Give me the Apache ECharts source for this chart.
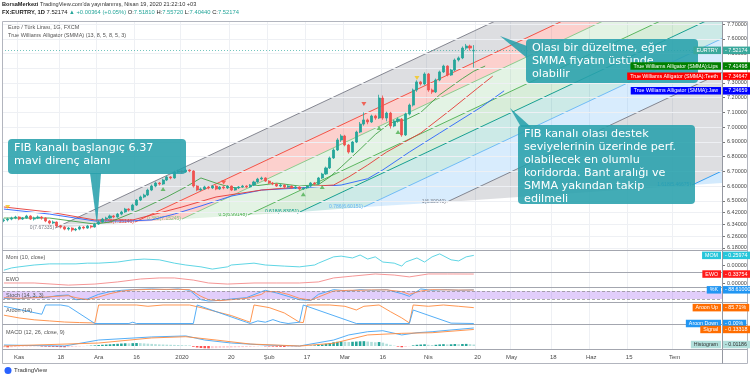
<!DOCTYPE html>
<html><head><meta charset="utf-8">
<script src="https://cdn.jsdelivr.net/npm/echarts@6/dist/echarts.min.js"></script>
<style>html,body{margin:0;padding:0;background:#fff;}#c{width:750px;height:378px;}</style>
</head><body><div id="c"></div>
<script>
// ---------- categories (weekdays) ----------
const firstDay = [2019, 9, 28];
const dayCount = 190;
const dates = [];
(function(){ const d = new Date(Date.UTC(firstDay[0], firstDay[1], firstDay[2]));
  while (dates.length < dayCount) { const w = d.getUTCDay(); if (w !== 0 && w !== 6) dates.push(d.toISOString().slice(0,10)); d.setUTCDate(d.getUTCDate()+1); } })();
const timeLabels = [['2019-11-01','Kas'],['2019-11-18','18'],['2019-12-02','Ara'],['2019-12-16','16'],['2020-01-01','2020'],['2020-01-20','20'],['2020-02-03','Şub'],['2020-02-17','17'],['2020-03-02','Mar'],['2020-03-16','16'],['2020-04-01','Nis'],['2020-04-20','20'],['2020-05-01','May'],['2020-05-18','18'],['2020-06-01','Haz'],['2020-06-15','15'],['2020-07-01','Tem']];
const priceTicks = [7.7,7.6,7.5,7.4,7.3,7.2,7.1,7.0,6.9,6.8,6.7,6.6,6.5,6.42,6.34,6.26,6.18];

// ---------- candles ----------
const opens = [6.365,6.370,6.376,6.383,6.390,6.376,6.383,6.397,6.376,6.383,
6.390,6.383,6.363,6.349,6.356,6.329,6.322,6.308,6.315,6.302,
6.308,6.322,6.315,6.329,6.322,6.342,6.356,6.376,6.383,6.397,
6.390,6.410,6.424,6.444,6.437,6.471,6.505,6.526,6.539,6.573,
6.600,6.621,6.614,6.641,6.662,6.655,6.696,6.702,6.696,6.709,
6.702,6.600,6.573,6.580,6.594,6.587,6.600,6.580,6.594,6.587,
6.600,6.573,6.587,6.594,6.600,6.594,6.607,6.628,6.648,6.655,
6.634,6.621,6.614,6.600,6.607,6.594,6.600,6.587,6.594,6.580,
6.587,6.600,6.621,6.614,6.655,6.682,6.723,6.791,6.845,6.913,
6.940,6.879,6.831,6.899,6.967,7.021,7.049,7.035,7.076,7.062,
7.198,7.062,7.096,7.008,7.042,7.055,6.947,7.089,7.150,7.252,
7.307,7.293,7.361,7.252,7.239,7.320,7.375,7.415,7.354,7.388,
7.456,7.470,7.537,7.551,7.51810];
const closes = [6.370,6.376,6.383,6.390,6.376,6.383,6.397,6.376,6.383,6.390,
6.383,6.363,6.349,6.356,6.329,6.322,6.308,6.315,6.302,6.308,
6.322,6.315,6.329,6.322,6.342,6.356,6.376,6.383,6.397,6.390,
6.410,6.424,6.444,6.437,6.471,6.505,6.526,6.539,6.573,6.600,
6.621,6.614,6.641,6.662,6.655,6.696,6.702,6.696,6.709,6.702,
6.600,6.573,6.580,6.594,6.587,6.600,6.580,6.594,6.587,6.600,
6.573,6.587,6.594,6.600,6.594,6.607,6.628,6.648,6.655,6.634,
6.621,6.614,6.600,6.607,6.594,6.600,6.587,6.594,6.580,6.587,
6.600,6.621,6.614,6.655,6.682,6.723,6.791,6.845,6.913,6.940,
6.879,6.831,6.899,6.967,7.021,7.049,7.035,7.076,7.062,7.198,
7.062,7.096,7.008,7.042,7.055,6.947,7.089,7.150,7.252,7.307,
7.293,7.361,7.252,7.239,7.320,7.375,7.415,7.354,7.388,7.456,
7.470,7.537,7.551,7.537,7.52174];
const lows = [6.355,6.360,6.368,6.375,6.368,6.370,6.378,6.370,6.366,6.376,
6.372,6.355,6.340,6.342,6.320,6.312,6.300,6.298,6.290,6.294,
6.300,6.306,6.310,6.312,6.318,6.336,6.350,6.368,6.378,6.382,
6.385,6.402,6.418,6.428,6.432,6.465,6.498,6.518,6.532,6.566,
6.592,6.604,6.608,6.634,6.646,6.650,6.688,6.686,6.690,6.694,
6.590,6.565,6.566,6.574,6.578,6.580,6.572,6.574,6.578,6.580,
6.566,6.568,6.580,6.588,6.586,6.588,6.600,6.622,6.640,6.628,
6.614,6.606,6.594,6.592,6.586,6.588,6.580,6.580,6.572,6.574,
6.580,6.594,6.606,6.610,6.648,6.676,6.716,6.784,6.838,6.900,
6.870,6.820,6.826,6.892,6.960,7.010,7.020,7.028,7.050,7.055,
7.050,7.040,6.990,7.000,7.030,6.935,6.940,7.080,7.140,7.240,
7.282,7.285,7.240,7.226,7.232,7.312,7.368,7.345,7.348,7.380,
7.446,7.462,7.525,7.520,7.40440];
const highs = [6.380,6.385,6.392,6.398,6.395,6.390,6.405,6.402,6.392,6.400,
6.396,6.388,6.370,6.366,6.360,6.336,6.330,6.322,6.320,6.316,
6.330,6.328,6.336,6.334,6.350,6.366,6.384,6.392,6.406,6.404,
6.418,6.432,6.452,6.450,6.480,6.512,6.535,6.548,6.582,6.610,
6.630,6.628,6.650,6.670,6.668,6.705,6.712,6.710,6.718,6.714,
6.708,6.606,6.590,6.602,6.600,6.608,6.606,6.600,6.600,6.606,
6.604,6.594,6.600,6.608,6.606,6.614,6.636,6.656,6.664,6.660,
6.640,6.628,6.620,6.614,6.612,6.606,6.604,6.600,6.598,6.594,
6.606,6.628,6.628,6.662,6.690,6.732,6.800,6.856,6.925,6.952,
6.948,6.886,6.906,6.976,7.035,7.100,7.058,7.085,7.084,7.220,
7.215,7.105,7.104,7.050,7.066,7.062,7.098,7.160,7.262,7.318,
7.314,7.372,7.368,7.262,7.330,7.384,7.424,7.420,7.396,7.466,
7.480,7.548,7.565,7.560,7.55720];

// ---------- Alligator ([bar index, value]) ----------
const jawPts = [[0,6.444],[12,6.410],[24,6.363],[33,6.363],[39,6.370],[45,6.410],[52,6.465],[60,6.532],[68,6.573],[78,6.587],[89,6.607],[96,6.650],[100,6.710],[107,6.831],[115,6.960],[126,7.137],[132,7.24659]];
const teethPts = [[0,6.458],[12,6.424],[24,6.370],[34,6.370],[47,6.458],[56,6.526],[68,6.573],[78,6.594],[87,6.607],[91,6.662],[96,6.743],[101,6.831],[110,6.960],[118,7.120],[125,7.265],[129,7.34647]];
const lipsPts = [[0,6.383],[12,6.383],[24,6.342],[28,6.356],[36,6.440],[43,6.526],[48,6.594],[52,6.655],[56,6.620],[60,6.590],[66,6.600],[72,6.620],[78,6.600],[83,6.610],[86,6.662],[89,6.730],[94,6.850],[98,6.950],[102,7.030],[106,7.050],[110,7.100],[115,7.220],[121,7.330],[124,7.380],[127,7.41498]];
const downMarks = [[58,6.625],[95,7.157]];
const upMarks = [[42,6.580],[79,6.545],[84,6.594],[99,6.994],[104,6.967]];
const yellowMarks = [[1,6.458],[109,7.334]];

// ---------- Fib channel ----------
const fibLevels = ['0','0.236','0.382','0.5','0.618','0.786','1','1.618','2.618'];
const fibValues = ['7.67335','7.35146','7.15245','6.99148','6.83051','6.60151','6.30940','5.46675',''];
const fibStartIdx = [13.5,34.6,47.0,64.4,78.1,95.0,116.9,181.6,284.2];
const fibStartPrice = [6.315,6.356,6.376,6.404,6.424,6.458,6.492,6.607,6.778];
const fibSlope = 0.0121;
const fibColors = ['#787b86','#f44336','#81c784','#4caf50','#009688','#64b5f6','#787b86','#2196f3','#f44336'];
const fibFills = ['rgba(120,123,134,0.25)','rgba(244,67,54,0.25)','rgba(129,199,132,0.22)','rgba(76,175,80,0.22)','rgba(0,150,136,0.2)','rgba(100,181,246,0.25)','rgba(120,123,134,0.25)','rgba(33,150,243,0.2)'];

// ---------- Indicators ----------
const momPts = [[0,-0.14],[2,-0.08],[4,-0.05],[8,0.00],[12,0.03],[15,0.03],[19,0.03],[22,0.05],[25,0.05],[30,0.08],[34,0.14],[37,0.16],[41,0.14],[45,0.05],[48,0.00],[52,-0.05],[55,-0.11],[59,-0.05],[60,0.00],[66,0.05],[69,0.00],[74,-0.03],[78,-0.05],[82,0.00],[83,0.05],[87,0.22],[89,0.24],[92,0.19],[94,0.27],[96,0.16],[98,0.22],[100,0.08],[103,0.05],[105,-0.03],[106,0.08],[109,0.19],[111,0.08],[113,0.22],[115,0.30],[118,0.14],[120,0.11],[122,0.22],[124,0.25974]];
const ewoPts = [[0,0.0],[8,0.0],[17,-0.08],[24,-0.04],[30,0.04],[36,0.15],[41,0.19],[45,0.19],[50,0.11],[54,0.0],[59,-0.04],[66,0.0],[72,0.0],[78,0.0],[83,0.04],[87,0.19],[92,0.26],[98,0.34],[103,0.30],[107,0.23],[112,0.34],[117,0.34],[124,0.33754]];
const stochK = [[0,25],[4,20],[8,35],[11,30],[14,45],[17,50],[19,15],[22,20],[25,55],[28,75],[31,85],[34,90],[39,95],[43,90],[46,95],[49,85],[52,15],[54,5],[57,10],[60,20],[64,30],[68,75],[69,85],[72,65],[75,40],[78,15],[81,10],[83,55],[87,90],[91,80],[94,90],[97,85],[101,90],[105,60],[107,40],[110,95],[113,85],[117,90],[120,85],[124,88.61]];
const stochD = [[0,30],[4,25],[8,30],[11,35],[14,40],[17,45],[19,30],[22,15],[25,35],[28,60],[31,78],[34,88],[39,92],[43,92],[46,92],[49,90],[52,40],[54,15],[57,8],[60,15],[64,25],[68,55],[69,75],[72,75],[75,55],[78,25],[81,12],[83,35],[87,80],[91,85],[94,85],[97,88],[101,88],[105,75],[107,55],[110,80],[113,90],[117,88],[120,87],[124,87]];
const aroonUp = [[0,45],[4,30],[8,20],[12,14],[16,8],[20,5],[24,3],[25,100],[35,100],[38,93],[42,100],[49,100],[52,86],[56,64],[60,43],[64,14],[65,7],[66,100],[70,86],[74,57],[78,7],[79,5],[80,100],[86,100],[90,93],[93,73],[95,93],[99,100],[102,64],[105,30],[107,3],[108,100],[112,93],[116,100],[120,93],[124,85.71]];
const aroonDown = [[0,93],[10,50],[11,100],[15,100],[17,93],[24,0],[33,0],[34,7],[35,0],[50,0],[51,100],[64,7],[65,0],[67,14],[69,7],[71,21],[73,7],[75,0],[78,7],[79,100],[93,0],[107,0],[108,73],[118,2],[124,0]];
const macdPts = [[0,0.008],[16,0.0],[25,0.048],[39,0.073],[48,0.081],[53,0.048],[60,0.024],[69,0.008],[78,0.0],[87,0.048],[91,0.089],[96,0.115],[100,0.123],[105,0.089],[109,0.107],[113,0.115],[118,0.129],[124,0.145]];
const signalPts = [[0,0.0],[25,0.024],[39,0.065],[48,0.075],[56,0.048],[65,0.016],[78,0.0],[87,0.022],[96,0.089],[105,0.102],[113,0.107],[124,0.13318]];
const histVals = [-0.010,-0.011,-0.010,-0.008,-0.006,
-0.005,-0.004,-0.004,-0.003,-0.003,-0.004,-0.005,-0.006,-0.007,-0.008,-0.009,
-0.010,-0.009,-0.008,-0.006,-0.004,
-0.002,0.001,0.003,0.005,0.008,
0.010,0.012,0.014,0.016,0.018,0.020,0.022,0.021,0.023,0.024,
0.023,0.021,0.019,0.017,0.015,0.013,0.012,
0.011,0.010,0.009,0.008,0.007,0.006,0.005,
-0.006,-0.012,-0.016,-0.018,-0.019,-0.018,-0.017,
-0.015,-0.014,-0.013,-0.012,-0.011,-0.010,-0.009,-0.008,-0.007,
-0.005,-0.003,-0.002,-0.003,-0.004,
-0.005,-0.006,-0.007,-0.008,-0.008,-0.007,-0.006,-0.005,
-0.002,0.000,0.003,0.005,0.008,0.012,
0.018,0.024,0.030,0.034,0.036,0.035,0.032,0.034,
0.036,0.038,0.039,0.036,0.033,0.030,0.032,0.027,
0.018,0.010,0.003,-0.005,-0.010,-0.007,
-0.002,0.005,0.010,0.012,0.014,0.010,0.008,0.010,0.013,
0.015,0.013,0.014,0.016,0.015,0.016,0.017,0.015,0.01186];

// ---------- layout ----------
const PL = 2, PR = 722, W = 750;
const panes = [{top:22,h:228,min:6.166,max:7.714},{top:251,h:21,min:-0.189,max:0.378},{top:273,h:14,min:-0.151,max:0.377},{top:288,h:14,min:-2.2,max:102.2},{top:303,h:21,min:-2.7,max:110.8},{top:325,h:24,min:-0.024,max:0.169}];
const labelMap = {}; timeLabels.forEach(t => labelMap[t[0]] = t[1]);
const isLabelDay = (i, v) => labelMap[v] !== undefined;
const FONT = 'Liberation Sans, Arial, sans-serif';

const grids = panes.map(p => ({left: PL, right: W - PR, top: p.top, height: p.h}));
const xAxes = panes.map((p, k) => ({
  type: 'category', gridIndex: k, data: dates, boundaryGap: true,
  axisLine: {show: false}, axisTick: {show: false},
  axisLabel: k === panes.length - 1 ? {show: true, interval: isLabelDay, formatter: v => labelMap[v] || '', fontSize: 6, color: '#4a4a4a', fontFamily: FONT, margin: 5} : {show: false},
  splitLine: {show: true, interval: isLabelDay, lineStyle: {color: '#eef0f4', width: 1}}
}));
const yAxes = panes.map((p, k) => {
  const base = {type: 'value', gridIndex: k, position: 'right', min: p.min, max: p.max, scale: true,
    axisLine: {show: false}, splitLine: {show: false}, axisTick: {show: false}, axisLabel: {show: false}};
  if (k === 0) { base.axisLabel = {show: true, customValues: priceTicks, formatter: v => v.toFixed(5), fontSize: 5.5, color: '#4a4a4a', fontFamily: FONT, margin: 5};
    base.axisTick = {show: true, customValues: priceTicks, length: 3, lineStyle: {color: '#777'}}; }
  if (k === 1 || k === 2) { base.axisLabel = {show: true, customValues: [0], formatter: v => v.toFixed(5), fontSize: 5.5, color: '#4a4a4a', fontFamily: FONT, margin: 5};
    base.axisTick = {show: true, customValues: [0], length: 3, lineStyle: {color: '#777'}}; }
  return base;
});

function fibRender(params, api) {
  const a = api.coord([0, 7]), b = api.coord([1, 7]);
  const dx = b[0] - a[0];
  const P = (idx, price) => [a[0] + idx * dx, api.coord([0, price])[1]];
  const far = 320;
  const starts = fibLevels.map((l, k) => P(fibStartIdx[k], fibStartPrice[k]));
  const ends = fibLevels.map((l, k) => P(far, fibStartPrice[k] + (far - fibStartIdx[k]) * fibSlope));
  const ch = [];
  for (let k = 0; k < fibLevels.length - 1; k++) ch.push({type: 'polygon', shape: {points: [starts[k], ends[k], ends[k+1], starts[k+1]]}, style: {fill: fibFills[k]}});
  for (let k = 0; k < fibLevels.length - 1; k++) {
    ch.push({type: 'line', shape: {x1: starts[k][0], y1: starts[k][1], x2: ends[k][0], y2: ends[k][1]}, style: {stroke: fibColors[k], lineWidth: 0.9}});
    ch.push({type: 'text', x: starts[k][0] - 1, y: starts[k][1], style: {text: fibLevels[k] + '(' + fibValues[k] + ')', align: 'right', verticalAlign: 'middle', fill: fibColors[k], font: '5px ' + FONT}});
  }
  const cs = params.coordSys;
  return {type: 'group', children: ch, clipPath: {type: 'rect', shape: {x: cs.x, y: cs.y, width: cs.width, height: cs.height}}};
}

const candleData = opens.map((o, i) => [o, closes[i], lows[i], highs[i]]);
const lineS = (name, data, xi, color, extra) => Object.assign({name, type: 'line', xAxisIndex: xi, yAxisIndex: xi, data, symbol: 'none', silent: true, lineStyle: {color, width: 0.9}, z: 4}, extra || {});
const histColor = p => { const v = histVals[p.dataIndex], pv = p.dataIndex > 0 ? histVals[p.dataIndex-1] : v;
  if (v >= 0) return v >= pv ? '#26a69a' : '#b2dfdb'; return v < pv ? '#ff5252' : '#ffcdd2'; };

const series = [
  {type: 'line', xAxisIndex: 0, yAxisIndex: 0, data: [], silent: true, z: 0,
   markLine: {silent: true, symbol: 'none', label: {show: false}, lineStyle: {color: '#eef0f4', width: 1, type: 'solid'}, data: priceTicks.map(v => ({yAxis: v}))}},
  {type: 'custom', xAxisIndex: 0, yAxisIndex: 0, data: [[0, 7]], renderItem: fibRender, silent: true, z: 1},
  {type: 'candlestick', xAxisIndex: 0, yAxisIndex: 0, data: candleData, barWidth: 2.6, z: 5, silent: true,
   itemStyle: {color: '#26a69a', color0: '#ef5350', borderColor: '#26a69a', borderColor0: '#ef5350', borderWidth: 0.8},
   markLine: {silent: true, symbol: 'none', label: {show: false}, lineStyle: {color: '#26a69a', width: 0.8, type: [1, 2], opacity: 0.8}, data: [{yAxis: closes[closes.length-1]}]}},
  lineS('Jaw', jawPts, 0, '#2962ff'),
  lineS('Teeth', teethPts, 0, '#e53935'),
  lineS('Lips', lipsPts, 0, '#43a047'),
  {type: 'scatter', xAxisIndex: 0, yAxisIndex: 0, data: downMarks, symbol: 'triangle', symbolRotate: 180, symbolSize: [5, 4], itemStyle: {color: '#f44336'}, z: 6, silent: true},
  {type: 'scatter', xAxisIndex: 0, yAxisIndex: 0, data: upMarks, symbol: 'triangle', symbolSize: [5, 4], itemStyle: {color: '#4caf50'}, z: 6, silent: true},
  {type: 'scatter', xAxisIndex: 0, yAxisIndex: 0, data: yellowMarks, symbol: 'triangle', symbolRotate: 180, symbolSize: [5, 4], itemStyle: {color: '#f5c518'}, z: 6, silent: true},
  lineS('Mom', momPts, 1, '#4dd0e1'),
  lineS('EWO', ewoPts, 2, '#f48a8a'),
  lineS('%K', stochK, 3, '#42a5f5', {markArea: {silent: true, itemStyle: {color: 'rgba(150,80,240,0.28)'}, data: [[{yAxis: 20}, {yAxis: 80}]]},
    markLine: {silent: true, symbol: 'none', label: {show: false}, lineStyle: {color: '#8a8a8a', width: 0.7, type: [3, 2]}, data: [{yAxis: 20}, {yAxis: 80}]}}),
  lineS('%D', stochD, 3, '#ff8a50'),
  lineS('Aroon Up', aroonUp, 4, '#ff8a3d'),
  lineS('Aroon Down', aroonDown, 4, '#42a5f5'),
  {type: 'bar', xAxisIndex: 5, yAxisIndex: 5, data: histVals, barWidth: 2.6, silent: true, itemStyle: {color: histColor}, z: 3},
  lineS('MACD', macdPts, 5, '#42a5f5'),
  lineS('Signal', signalPts, 5, '#ff8a3d')
];

const chart = echarts.init(document.getElementById('c'));
chart.setOption({animation: false, backgroundColor: '#ffffff', grid: grids, xAxis: xAxes, yAxis: yAxes, series});

// ---------- overlay graphics ----------
const yPix = (k, v) => chart.convertToPixel({yAxisIndex: k}, v);
const G = [];
// frame and separators
G.push({type: 'rect', shape: {x: 2.5, y: 21.5, width: 745, height: 342}, style: {fill: 'none', stroke: '#b2b5be', lineWidth: 1}, z: 50, silent: true});
G.push({type: 'line', shape: {x1: PR + 0.5, y1: 21.5, x2: PR + 0.5, y2: 363.5}, style: {stroke: '#9598a1', lineWidth: 1}, z: 50, silent: true});
[250.5, 272.5, 287.5, 302.5, 324.5, 349.5].forEach(y => G.push({type: 'line', shape: {x1: 2.5, y1: y, x2: 747.5, y2: y}, style: {stroke: '#a3a6af', lineWidth: 1}, z: 50, silent: true}));
// header
G.push({type: 'text', x: 2, y: 4, style: {text: '{b|BorsaMerkezi} TradingView.com\'da yayınlanmış, Nisan 19, 2020 21:22:10 +03', verticalAlign: 'middle', font: '5.6px ' + FONT, fill: '#333', rich: {b: {fontWeight: 'bold', fontSize: 5.6, fontFamily: FONT, fill: '#222'}}}, z: 60});
G.push({type: 'text', x: 2, y: 12.5, style: {text: '{b|FX:EURTRY, 1D} 7.52174 {g|▲ +0.00364 (+0.05%)} O:{g|7.51810} H:{g|7.55720} L:{g|7.40440} C:{g|7.52174}', verticalAlign: 'middle', font: '5.8px ' + FONT, fill: '#222', rich: {b: {fontWeight: 'bold', fontSize: 5.8, fontFamily: FONT}, g: {fill: '#26a69a', fontSize: 5.8, fontFamily: FONT}}}, z: 60});
G.push({type: 'text', x: 8, y: 27, style: {text: 'Euro / Türk Lirası, 1G, FXCM', verticalAlign: 'middle', font: '5.5px ' + FONT, fill: '#555'}, z: 60});
G.push({type: 'text', x: 8, y: 35, style: {text: 'True Williams Alligator (SMMA) (13, 8, 5, 8, 5, 3)', verticalAlign: 'middle', font: '5.5px ' + FONT, fill: '#555'}, z: 60});
[['Mom (10, close)', 257], ['EWO', 279], ['Stoch (14, 3, 3)', 295], ['Aroon (14)', 310], ['MACD (12, 26, close, 9)', 332]].forEach(t =>
  G.push({type: 'text', x: 6, y: t[1], style: {text: t[0], verticalAlign: 'middle', font: '5.5px ' + FONT, fill: '#555'}, z: 60}));
G.push({type: 'text', x: 14, y: 370.5, style: {text: 'TradingView', verticalAlign: 'middle', font: '6px ' + FONT, fill: '#333'}, z: 60});
G.push({type: 'circle', shape: {cx: 8, cy: 370.5, r: 3.5}, style: {fill: '#2962ff'}, z: 60});

// callouts
const CALLOUT = 'rgba(40,160,172,0.88)';
const cFont = '11.2px "DejaVu Sans", sans-serif';
const callouts = [
  {x: 8, y: 139, w: 178, h: 35, ptr: [[90,173],[101,173],[97,225]], lines: ['FIB kanalı başlangıç 6.37', 'mavi direnç alanı']},
  {x: 526, y: 39, w: 172, h: 44, ptr: [[527,46],[527,58],[500,36]], lines: ['Olası bir düzeltme, eğer', 'SMMA fiyatın üstünde', 'olabilir']},
  {x: 518, y: 125, w: 177, h: 79, ptr: [[521,127],[531,127],[510,108]], lines: ['FIB kanalı olası destek', 'seviyelerinin üzerinde perf.', 'olabilecek en olumlu', 'koridorda. Bant aralığı ve', 'SMMA yakından takip', 'edilmeli']}
];
callouts.forEach(c => {
  G.push({type: 'polygon', shape: {points: c.ptr}, style: {fill: CALLOUT}, z: 70, silent: true});
  G.push({type: 'rect', shape: {x: c.x, y: c.y, width: c.w, height: c.h, r: 4}, style: {fill: CALLOUT}, z: 70, silent: true});
  G.push({type: 'text', x: c.x + 6, y: c.y + 3, style: {text: c.lines.join('\n'), font: cFont, fill: '#ffffff', lineHeight: 13, verticalAlign: 'top'}, z: 71, silent: true});
});

// right tags
const tags = [
  [0, 'EURTRY', 7.52174, '#3aa89c', '#fff'],
  [0, 'True Williams Alligator (SMMA):Lips', 7.41498, '#008000', '#fff'],
  [0, 'True Williams Alligator (SMMA):Teeth', 7.34647, '#ff0000', '#fff'],
  [0, 'True Williams Alligator (SMMA):Jaw', 7.24659, '#0000ff', '#fff'],
  [1, 'MOM', 0.25974, '#26c6da', '#fff'],
  [2, 'EWO', 0.33754, '#ff1a1a', '#fff'],
  [3, '%K', 88.61, '#2196f3', '#fff'],
  [4, 'Aroon Up', 85.71, '#ff6d00', '#fff', '%'],
  [4, 'Aroon Down', 0.00, '#2196f3', '#fff', '%'],
  [5, 'Signal', 0.13318, '#ff6d00', '#fff'],
  [5, 'Histogram', 0.01186, '#b2dfdb', '#333']
];
tags.forEach(t => {
  const y = yPix(t[0], t[2]);
  const val = t[5] ? t[2].toFixed(2) + t[5] : t[2].toFixed(5);
  G.push({type: 'text', x: PR - 1, y: y, style: {text: t[1], align: 'right', verticalAlign: 'middle', font: '5.3px ' + FONT, fill: t[4], backgroundColor: t[3], padding: [1.5, 3, 1, 3]}, z: 80, silent: true});
  G.push({type: 'text', x: PR + 1, y: y, style: {text: '- ' + val, align: 'left', verticalAlign: 'middle', font: '5.3px ' + FONT, fill: t[4], backgroundColor: t[3], padding: [1.5, 3, 1, 2]}, z: 80, silent: true});
});
chart.setOption({graphic: {elements: G}});
</script></body></html>
